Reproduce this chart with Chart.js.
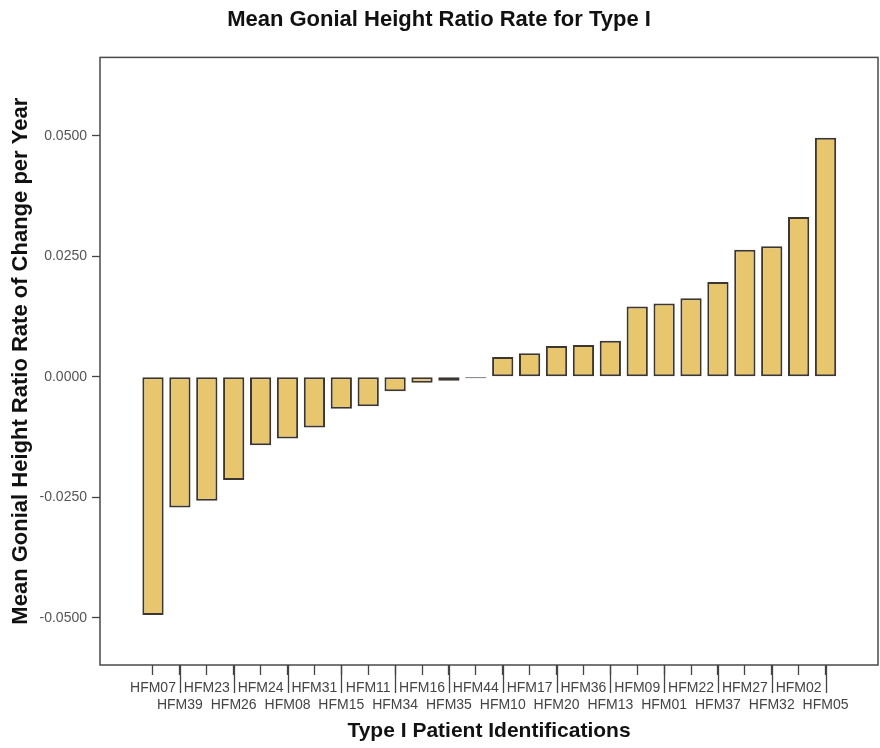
<!DOCTYPE html>
<html>
<head>
<meta charset="utf-8">
<script src="https://cdn.jsdelivr.net/npm/chart.js@4/dist/chart.umd.min.js"></script>
<style>
  html, body { margin: 0; padding: 0; background: #ffffff; }
  canvas { display: block; }
</style>
</head>
<body>
<canvas id="chart" width="880" height="748"></canvas>
<script>
// Patients, sorted by their mean rate of change
const PATIENTS = [
  'HFM07', 'HFM39', 'HFM23', 'HFM26', 'HFM24', 'HFM08', 'HFM31', 'HFM15', 'HFM11',
  'HFM34', 'HFM16', 'HFM35', 'HFM44', 'HFM10', 'HFM17', 'HFM20', 'HFM36', 'HFM13',
  'HFM09', 'HFM01', 'HFM22', 'HFM37', 'HFM27', 'HFM32', 'HFM02', 'HFM05'
];

// Mean gonial height ratio rate of change per year
const RATES = [
  -0.0494, -0.0271, -0.0257, -0.0214, -0.0142, -0.0128, -0.0105, -0.0066, -0.0061,
  -0.0030, -0.0012, -0.0008, -0.0003, 0.0041, 0.0049, 0.0064, 0.0066, 0.0075,
  0.0146, 0.0152, 0.0163, 0.0197, 0.0264, 0.0271, 0.0332, 0.0496
];

// Value axis ticks and range
const Y_TICKS = [-0.05, -0.025, 0, 0.025, 0.05];
const Y_MIN = -0.0598;
const Y_MAX = 0.0663;

// Patient axis range (in bar index units)
const X_MIN = -1.97;
const X_MAX = 26.95;

const FONT = '"Liberation Sans", Arial, Helvetica, sans-serif';

// White page, framed plot area and the long ticks for the second label row
const framePlugin = {
  id: 'frame',
  beforeDraw(chart) {
    const ctx = chart.ctx;
    ctx.save();
    ctx.fillStyle = '#ffffff';
    ctx.fillRect(0, 0, chart.width, chart.height);
    ctx.restore();
  },
  afterDraw(chart) {
    const { ctx, chartArea: a, scales: { x } } = chart;
    ctx.save();
    ctx.strokeStyle = '#4a4a4a';
    ctx.lineWidth = 1.5;
    ctx.strokeRect(a.left, a.top, a.right - a.left, a.bottom - a.top);
    ctx.strokeStyle = '#444444';
    ctx.lineWidth = 1.3;
    x.ticks.forEach((t, i) => {
      if (i % 2 === 1) {
        const px = Math.round(x.getPixelForValue(t.value)) + 0.5;
        ctx.beginPath();
        ctx.moveTo(px, a.bottom);
        ctx.lineTo(px, a.bottom + 28);
        ctx.stroke();
      }
    });
    ctx.restore();
  }
};

new Chart(document.getElementById('chart'), {
  type: 'bar',
  data: {
    datasets: [{
      data: PATIENTS.map((p, i) => ({ x: i, y: RATES[i] })),
      backgroundColor: '#E8C66E',
      borderColor: '#3b3630',
      borderWidth: 2,
      borderSkipped: false,
      barPercentage: 0.79,
      categoryPercentage: 1.0
    }]
  },
  options: {
    responsive: false,
    maintainAspectRatio: false,
    animation: false,
    devicePixelRatio: 1,
    layout: { padding: { left: 0, right: 2, top: 0, bottom: 0 } },
    plugins: {
      legend: { display: false },
      tooltip: { enabled: false },
      title: {
        display: true,
        text: 'Mean Gonial Height Ratio Rate for Type I',
        color: '#111111',
        font: { family: FONT, size: 22, weight: 'bold', lineHeight: 1.2 },
        padding: { top: 7, bottom: 24 }
      }
    },
    scales: {
      x: {
        type: 'linear',
        offset: false,
        min: X_MIN,
        max: X_MAX,
        afterBuildTicks(scale) {
          scale.ticks = PATIENTS.map((p, i) => ({ value: i }));
        },
        afterFit(scale) { scale.height = 83; },
        border: { display: false },
        grid: {
          offset: false,
          drawOnChartArea: false,
          drawTicks: true,
          tickLength: 10,
          tickColor: '#444444',
          tickWidth: 1.3
        },
        ticks: {
          autoSkip: false,
          maxRotation: 0,
          minRotation: 0,
          padding: 4,
          color: '#444444',
          font: { family: FONT, size: 14, lineHeight: 1.26 },
          callback: (v, i) => (i % 2 === 1 ? ['', PATIENTS[i]] : PATIENTS[i])
        },
        title: {
          display: true,
          text: 'Type I Patient Identifications',
          color: '#111111',
          font: { family: FONT, size: 21, weight: 'bold', lineHeight: 1.2 },
          padding: { top: 0, bottom: 4 }
        }
      },
      y: {
        min: Y_MIN,
        max: Y_MAX,
        afterBuildTicks(scale) {
          scale.ticks = Y_TICKS.map(v => ({ value: v }));
        },
        afterFit(scale) { scale.width = 100; },
        border: { display: false },
        grid: {
          drawOnChartArea: false,
          drawTicks: true,
          tickLength: 8,
          tickColor: '#444444',
          tickWidth: 1.3
        },
        ticks: {
          padding: 5,
          color: '#555555',
          font: { family: FONT, size: 14 },
          callback: v => v.toFixed(4)
        },
        title: {
          display: true,
          text: 'Mean Gonial Height Ratio Rate of Change per Year',
          color: '#111111',
          font: { family: FONT, size: 22, weight: 'bold', lineHeight: 1.2 },
          padding: { top: 8, bottom: 0 }
        }
      }
    }
  },
  plugins: [framePlugin]
});
</script>
</body>
</html>
